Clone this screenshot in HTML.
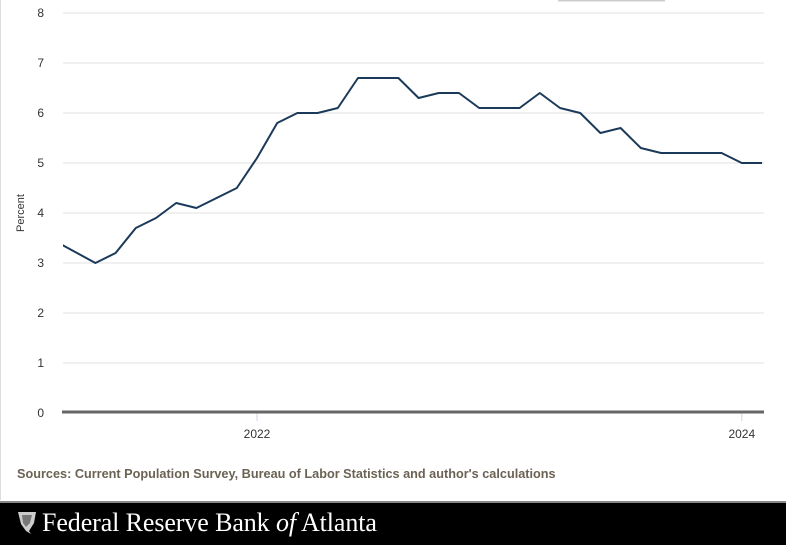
<!DOCTYPE html>
<html><head><meta charset="utf-8"><style>
html,body{margin:0;padding:0;background:#fff;width:786px;height:545px;overflow:hidden;font-family:"Liberation Sans",sans-serif}
#wrap{position:relative;width:786px;height:545px}
#footer{position:absolute;left:0;top:501px;width:786px;height:44px;background:#000;border-top:2px solid #888;box-sizing:border-box}
#footer span{position:absolute;left:42px;top:5px;color:#fff;font-family:"Liberation Serif",serif;font-size:26px;letter-spacing:-0.1px}
#src{position:absolute;left:17px;top:467px;font-size:12.7px;font-weight:bold;color:#6b6253}
</style></head><body>
<div id="wrap">
<svg id="chart" width="786" height="500" style="position:absolute;left:0;top:0"></svg>
<div id="src">Sources: Current Population Survey, Bureau of Labor Statistics and author's calculations</div>
<div id="footer">
<svg style="position:absolute;left:17px;top:8px" width="20" height="24"><path d="M1,1 L19,1 L17,12 L12,20 L14,23 L9,20 L4,13 Z" fill="#ccc"/><path d="M5,4 L15,4 L13,12 L9,16 L6,12 Z" fill="#777"/></svg>
<span>Federal Reserve Bank <i>of</i> Atlanta</span></div>
</div>
<script>
const months=["2021-03","2021-04","2021-05","2021-06","2021-07","2021-08","2021-09","2021-10","2021-11","2021-12","2022-01","2022-02","2022-03","2022-04","2022-05","2022-06","2022-07","2022-08","2022-09","2022-10","2022-11","2022-12","2023-01","2023-02","2023-03","2023-04","2023-05","2023-06","2023-07","2023-08","2023-09","2023-10","2023-11","2023-12","2024-01","2024-02"];
const values=[3.44,3.22,3.0,3.2,3.7,3.9,4.2,4.1,4.3,4.5,5.1,5.8,6.0,6.0,6.1,6.7,6.7,6.7,6.3,6.4,6.4,6.1,6.1,6.1,6.4,6.1,6.0,5.6,5.7,5.3,5.2,5.2,5.2,5.2,5.0,5.0];
const yTicks=[0,1,2,3,4,5,6,7,8];
const xTickLabels=["2022","2024"];
const xTickMonths=["2022-01","2024-01"];
const NS="http://www.w3.org/2000/svg";
const svg=document.getElementById('chart');
function mIdx(s){const [y,m]=s.split('-').map(Number);return y*12+m-1;}
const base=mIdx("2022-01");
function x(s){return 257+(mIdx(s)-base)*20.2;}
function y(v){return 413-v*50;}
function mk(t,a){const e=document.createElementNS(NS,t);for(const k in a)e.setAttribute(k,a[k]);svg.appendChild(e);return e;}
let e=mk('line',{x1:0.5,y1:0,x2:0.5,y2:500,stroke:'#ddd','stroke-width':1});


e=mk('line',{x1:558,y1:0.5,x2:665,y2:0.5,stroke:'#ccc','stroke-width':2});


yTicks.forEach(t=>{
 if(t>0){const g=mk('line',{x1:63,x2:764,y1:y(t),y2:y(t),stroke:'#e2e2e2','stroke-width':1});
 
 }
 const l=mk('text',{x:44,y:y(t)+4,'text-anchor':'end','font-size':12,fill:'#333'});l.textContent=t;
 
 
});
const yt=mk('text',{x:0,y:0,'font-size':11,fill:'#333','text-anchor':'middle',transform:'translate(24,213) rotate(-90)'});yt.textContent='Percent';


xTickMonths.forEach((m,i)=>{
 const tk=mk('line',{x1:x(m),x2:x(m),y1:413,y2:421,stroke:'#ccd6eb','stroke-width':1});
 
 
 const l=mk('text',{x:x(m),y:438,'text-anchor':'middle','font-size':12,fill:'#333'});l.textContent=xTickLabels[i];
 
 
});
const ax=mk('line',{x1:62,x2:764,y1:y(0)-1,y2:y(0)-1,stroke:'#666','stroke-width':3});


const defs=mk('defs',{});const cp=document.createElementNS(NS,'clipPath');cp.setAttribute('id','clip');
const r=document.createElementNS(NS,'rect');r.setAttribute('x',63);r.setAttribute('y',0);r.setAttribute('width',701);r.setAttribute('height',420);cp.appendChild(r);defs.appendChild(cp);
const d=months.map((m,i)=>(i?'L':'M')+x(m).toFixed(1)+','+y(values[i]).toFixed(1)).join(' ');
const p=mk('path',{d:d,fill:'none',stroke:'#1b3a5a','stroke-width':2,'stroke-linejoin':'round','clip-path':'url(#clip)'});


</script>
</body></html>
